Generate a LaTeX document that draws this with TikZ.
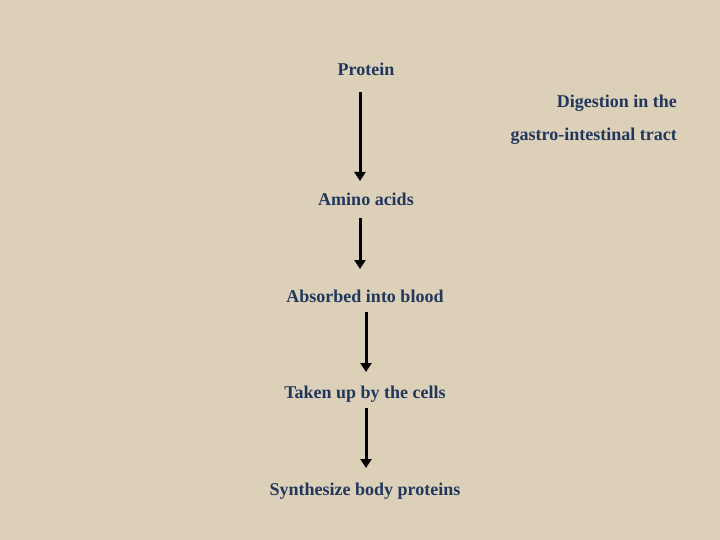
\documentclass[tikz,border=0pt]{standalone}
\usepackage{fontspec}
\setmainfont{Liberation Serif}
\usetikzlibrary{arrows.meta}
\definecolor{bgc}{HTML}{DCD0B8}
\definecolor{txt}{HTML}{22375E}
\tikzset{
  lbl/.style={text=txt, font=\bfseries\fontsize{18}{21}\selectfont, inner sep=0pt, anchor=center},
  flow/.style={draw=black, line width=3pt, -{Triangle[width=11pt,length=9pt]}}
}
\begin{document}
\begin{tikzpicture}[x=1pt,y=-1pt]
\fill[bgc] (0,0) rectangle (720,540);
\useasboundingbox (0,0) rectangle (720,540);
\node[lbl] (protein) at (366,69) {Protein};
\node[lbl, anchor=east] (dig1) at (677,103) {Digestion in the};
\node[lbl, anchor=east] (dig2) at (677,136) {gastro-intestinal tract};
\node[lbl] (amino) at (366,199) {Amino acids};
\node[lbl] (absorb) at (365,296) {Absorbed into blood};
\node[lbl] (taken) at (365,394) {Taken up by the cells};
\node[lbl] (synth) at (365,491) {Synthesize body proteins};
\coordinate (a1s) at (360,92); \coordinate (a1e) at (360,181);
\coordinate (a2s) at (360,218); \coordinate (a2e) at (360,269);
\coordinate (a3s) at (366,312); \coordinate (a3e) at (366,372);
\coordinate (a4s) at (366,408); \coordinate (a4e) at (366,468);
\draw[flow] (a1s) -- (a1e);
\draw[flow] (a2s) -- (a2e);
\draw[flow] (a3s) -- (a3e);
\draw[flow] (a4s) -- (a4e);
\end{tikzpicture}
\end{document}
